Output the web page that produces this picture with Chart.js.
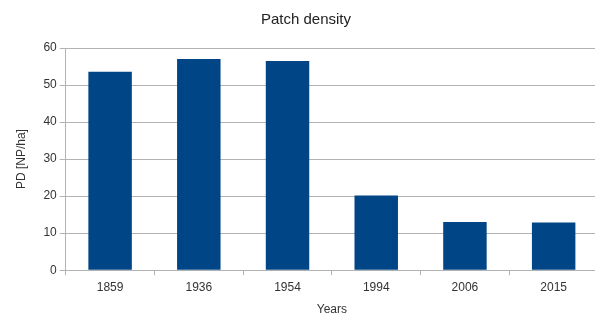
<!DOCTYPE html>
<html><head><meta charset="utf-8">
<script src="https://cdn.jsdelivr.net/npm/chart.js@4/dist/chart.umd.min.js"></script>
<style>html,body{margin:0;padding:0;background:#fff;overflow:hidden}#wrap{width:598px;height:317px}</style>
</head><body><div id="wrap"><canvas id="c"></canvas></div>
<script>
const categories = ["1859","1936","1954","1994","2006","2015"];
const pdValues = [53.6, 57.0, 56.5, 20.2, 13.0, 12.9];
const yTicks = [0,10,20,30,40,50,60];

new Chart(document.getElementById('c'), {
  type: 'bar',
  data: { labels: categories, datasets: [{ label: 'PD', data: pdValues, backgroundColor: '#004586', borderWidth: 0, categoryPercentage: 1.0, barPercentage: 0.49 }] },
  options: {
    responsive: true, maintainAspectRatio: false, animation: false,
    layout: { padding: { top: 5, right: 0, left: 14, bottom: 0 } },
    plugins: {
      legend: { display: false }, tooltip: { enabled: false },
      title: { display: true, text: 'Patch density', color: '#222', font: { family: 'Liberation Sans', size: 15, weight: 'normal' }, padding: { top: 6, bottom: 19 } }
    },
    scales: {
      x: {
        offset: true,
        grid: { offset: true, drawOnChartArea: false, drawTicks: true, tickLength: 5, color: '#b3b3b3' },
        border: { color: '#b3b3b3' },
        ticks: { color: '#333', font: { family: 'Liberation Sans', size: 12 }, padding: 5 },
        title: { display: true, text: 'Years', color: '#333', font: { family: 'Liberation Sans', size: 12 }, padding: { top: 3, bottom: 0 } }
      },
      y: {
        min: 0, max: 60,
        afterBuildTicks: (axis) => { axis.ticks = yTicks.map(v => ({ value: v })); },
        grid: { color: '#b3b3b3', tickLength: 6 },
        border: { color: '#b3b3b3' },
        ticks: { color: '#333', font: { family: 'Liberation Sans', size: 12 }, padding: 3 },
        title: { display: true, text: 'PD [NP/ha]', color: '#333', font: { family: 'Liberation Sans', size: 12 }, padding: { top: 0, bottom: 12 } }
      }
    }
  }
});
</script></body></html>
